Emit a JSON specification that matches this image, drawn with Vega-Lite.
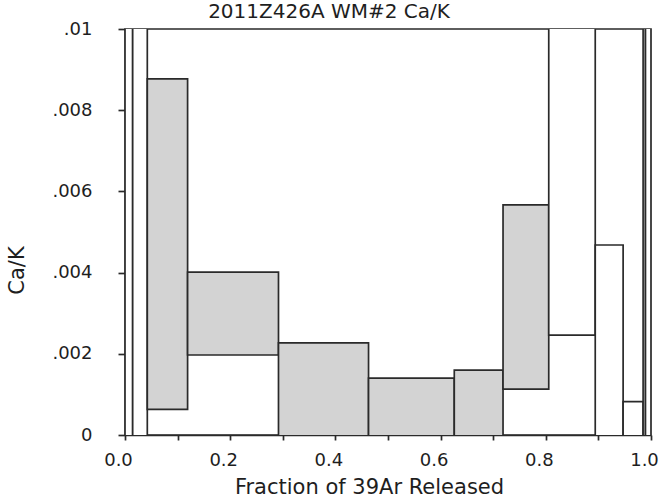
{
  "$schema": "https://vega.github.io/schema/vega-lite/v6.json",
  "autosize": "none",
  "width": 526,
  "height": 406,
  "padding": {"left": 125, "top": 29, "right": 13, "bottom": 69},
  "background": "white",
  "title": {
    "text": "2011Z426A WM#2 Ca/K",
    "anchor": "middle",
    "frame": "group",
    "dx": -59,
    "offset": -17.5,
    "baseline": "alphabetic",
    "font": "DejaVu Sans",
    "fontSize": 20,
    "fontWeight": "normal",
    "color": "#1e1e1e"
  },
  "config": {
    "view": {"stroke": "#2a2a2a", "strokeWidth": 1.7},
    "axis": {
      "grid": false,
      "domainColor": "#2a2a2a",
      "domainWidth": 1.7,
      "tickColor": "#2a2a2a",
      "tickWidth": 1.7,
      "labelFont": "DejaVu Sans",
      "labelFontSize": 18,
      "labelColor": "#1e1e1e",
      "titleFont": "DejaVu Sans",
      "titleFontSize": 21,
      "titleFontWeight": "normal",
      "titleColor": "#1e1e1e"
    }
  },
  "data": {
    "values": [
      {"step": 1, "x0": 0.0, "x1": 0.0146, "lo": -0.002, "hi": 0.013, "plateau": "no"},
      {"step": 2, "x0": 0.0146, "x1": 0.0424, "lo": -0.002, "hi": 0.013, "plateau": "no"},
      {"step": 3, "x0": 0.0424, "x1": 0.119, "lo": 0.00063, "hi": 0.00877, "plateau": "yes"},
      {"step": 4, "x0": 0.119, "x1": 0.2918, "lo": 0.00197, "hi": 0.00401, "plateau": "yes"},
      {"step": 5, "x0": 0.2918, "x1": 0.463, "lo": -0.0002, "hi": 0.00227, "plateau": "yes"},
      {"step": 6, "x0": 0.463, "x1": 0.626, "lo": -0.0003, "hi": 0.0014, "plateau": "yes"},
      {"step": 7, "x0": 0.626, "x1": 0.7187, "lo": -0.0004, "hi": 0.0016, "plateau": "yes"},
      {"step": 8, "x0": 0.7187, "x1": 0.8056, "lo": 0.00113, "hi": 0.00567, "plateau": "yes"},
      {"step": 9, "x0": 0.8056, "x1": 0.894, "lo": 0.00246, "hi": 0.012, "plateau": "no"},
      {"step": 10, "x0": 0.894, "x1": 0.947, "lo": -0.0005, "hi": 0.00468, "plateau": "no"},
      {"step": 11, "x0": 0.947, "x1": 0.985, "lo": -0.001, "hi": 0.00082, "plateau": "no"},
      {"step": 12, "x0": 0.985, "x1": 0.9895, "lo": -0.002, "hi": 0.013, "plateau": "no"},
      {"step": 13, "x0": 0.9895, "x1": 1.0, "lo": -0.002, "hi": 0.013, "plateau": "no"}
    ]
  },
  "mark": {"type": "rect", "clip": true, "stroke": "#2a2a2a", "strokeWidth": 1.7},
  "encoding": {
    "x": {
      "field": "x0",
      "type": "quantitative",
      "scale": {"domain": [0, 1], "nice": false, "zero": false},
      "axis": {
        "title": "Fraction of 39Ar Released",
        "values": [0, 0.1, 0.2, 0.3, 0.4, 0.5, 0.6, 0.7, 0.8, 0.9, 1.0],
        "labelExpr": "round(datum.value * 10) % 2 == 0 ? format(datum.value, '.1f') : ''",
        "tickSize": 5,
        "labelPadding": 11,
        "labelOffset": -7,
        "labelFlush": false,
        "labelOverlap": false,
        "titleX": 244,
        "titleY": 52,
        "titleBaseline": "middle",
        "titleAlign": "center"
      }
    },
    "x2": {"field": "x1"},
    "y": {
      "field": "lo",
      "type": "quantitative",
      "scale": {"domain": [0, 0.01], "nice": false, "zero": false},
      "axis": {
        "title": "Ca/K",
        "values": [0, 0.002, 0.004, 0.006, 0.008, 0.01],
        "labelExpr": "datum.value == 0 ? '0' : slice(format(datum.value, '.3~f'), 1)",
        "tickSize": 7,
        "labelPadding": 26,
        "labelFlush": false,
        "labelOverlap": false,
        "titleAngle": -90,
        "titleX": -107.5,
        "titleY": 241,
        "titleAlign": "center",
        "titleBaseline": "middle"
      }
    },
    "y2": {"field": "hi"},
    "fill": {
      "field": "plateau",
      "type": "nominal",
      "scale": {"domain": ["yes", "no"], "range": ["#d3d3d3", "#ffffff"]},
      "legend": null
    }
  }
}
